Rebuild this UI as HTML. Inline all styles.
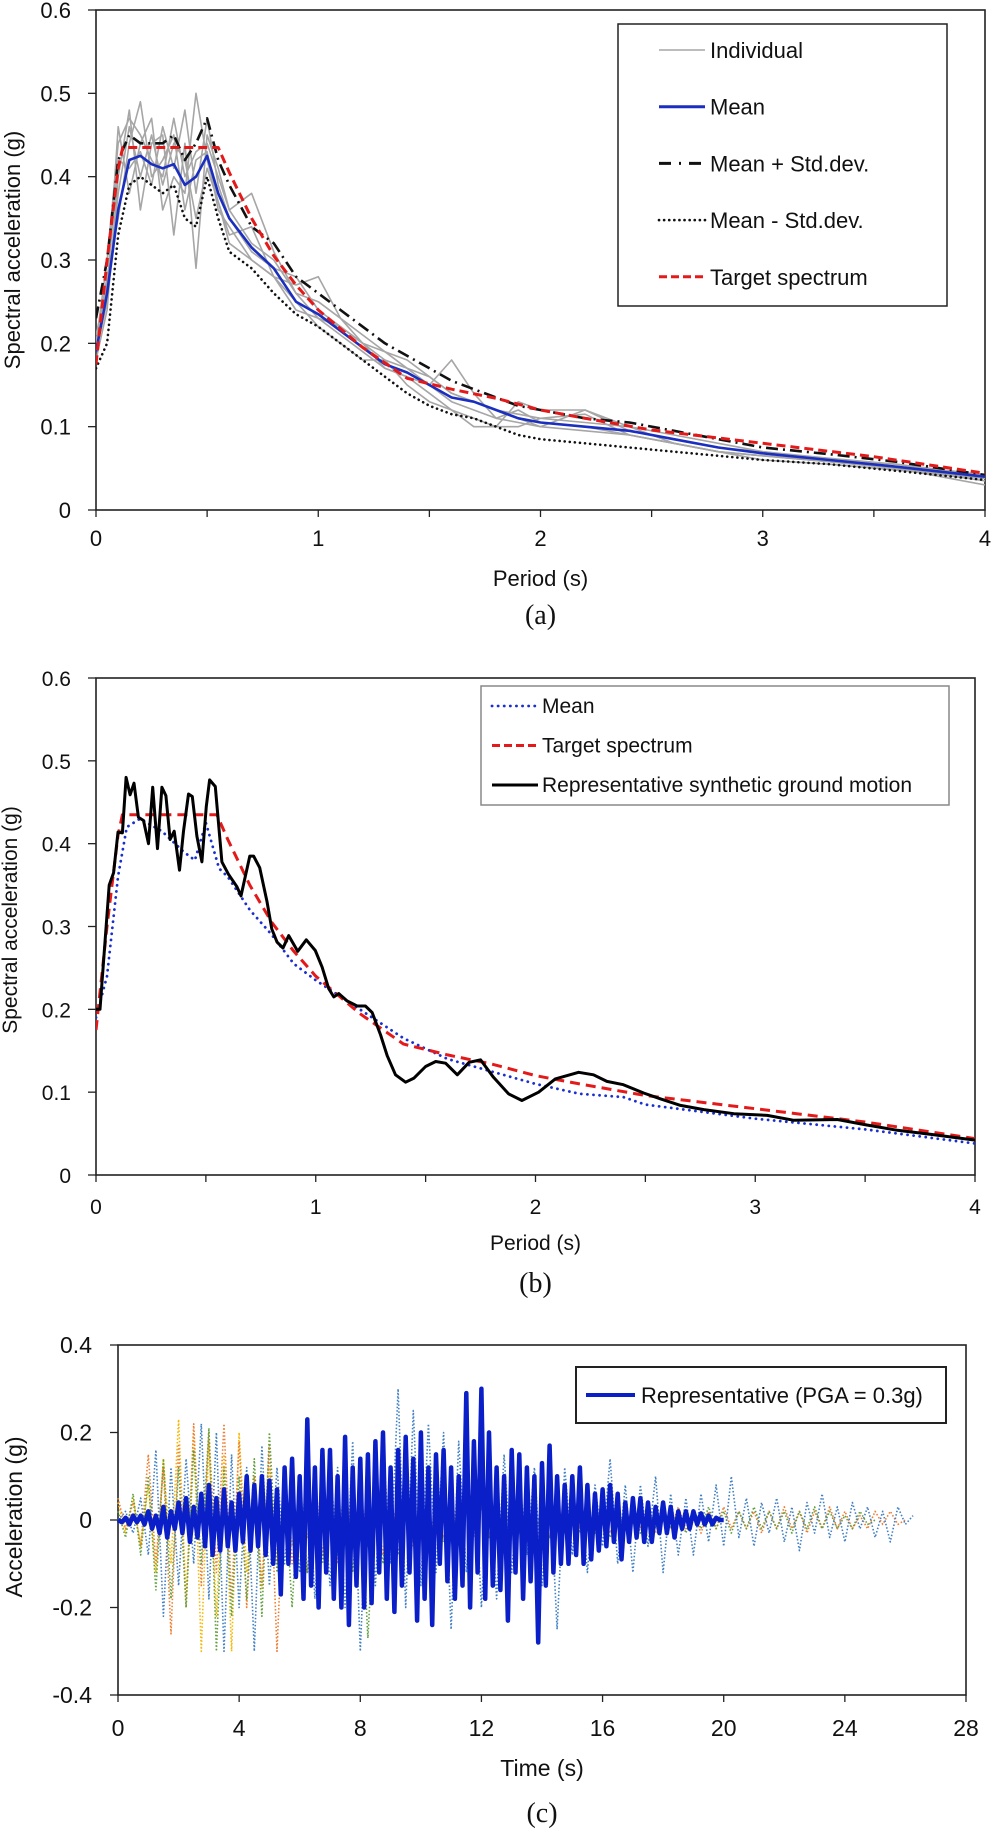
<!DOCTYPE html>
<html><head><meta charset="utf-8"><style>
html,body{margin:0;padding:0;background:#fff;}
svg{display:block;font-family:"Liberation Sans",sans-serif;}
</style></head><body>
<svg id="fig" width="992" height="1832" viewBox="0 0 992 1832" xmlns="http://www.w3.org/2000/svg">
<rect x="0" y="0" width="992" height="1832" fill="#fff"/>
<g id="ga"></g>
<g id="gb"></g>
<g id="gc"></g>
</svg>
<script>
// ---- Panel (a) data ----
const periodsA = [0,.05,.1,.15,.2,.25,.3,.35,.4,.45,.5,.55,.6,.7,.8,.9,1.0,1.1,1.2,1.3,1.4,1.5,1.6,1.7,1.8,1.9,2.0,2.2,2.4,2.6,2.8,3.0,3.3,3.6,4.0];
const meanA = [.19,.26,.36,.42,.425,.415,.41,.415,.39,.40,.425,.38,.35,.315,.29,.25,.235,.215,.195,.175,.165,.15,.135,.13,.12,.11,.105,.10,.095,.085,.075,.068,.06,.052,.04];
const plusStdA = [.23,.30,.42,.45,.44,.44,.44,.45,.42,.44,.47,.42,.39,.34,.32,.28,.26,.24,.22,.20,.185,.17,.155,.145,.135,.125,.12,.11,.105,.095,.085,.075,.067,.058,.042];
const minusStdA = [.17,.20,.33,.39,.40,.39,.38,.39,.35,.34,.40,.35,.31,.29,.26,.235,.22,.20,.18,.16,.14,.125,.115,.11,.10,.09,.085,.08,.075,.07,.065,.06,.055,.047,.036];
const indiv1 = [.20,.30,.44,.47,.45,.42,.40,.47,.40,.43,.44,.40,.36,.32,.30,.26,.25,.23,.21,.19,.18,.16,.14,.13,.12,.115,.11,.105,.10,.09,.08,.07,.062,.055,.042];
const indiv2 = [.19,.26,.46,.38,.44,.47,.36,.40,.38,.50,.42,.37,.33,.34,.28,.27,.28,.23,.20,.17,.16,.15,.18,.14,.11,.105,.10,.12,.10,.08,.07,.065,.058,.05,.038];
const indiv3 = [.18,.24,.40,.48,.36,.44,.45,.33,.44,.29,.45,.41,.36,.38,.31,.26,.23,.21,.19,.17,.16,.14,.12,.11,.10,.10,.11,.115,.09,.08,.07,.065,.06,.05,.035];
const indiv4 = [.20,.28,.35,.44,.49,.40,.42,.45,.36,.42,.43,.36,.34,.30,.28,.25,.22,.20,.18,.18,.15,.13,.12,.10,.10,.13,.12,.12,.095,.085,.075,.07,.06,.055,.04];
const indiv5 = [.21,.27,.42,.41,.43,.39,.46,.41,.48,.38,.47,.39,.35,.31,.29,.28,.24,.22,.20,.18,.17,.16,.14,.13,.12,.11,.10,.095,.09,.08,.07,.065,.058,.05,.03];
const indiv6 = [.19,.25,.38,.46,.40,.45,.39,.44,.42,.35,.41,.37,.32,.30,.28,.24,.23,.22,.20,.19,.17,.15,.13,.12,.11,.12,.105,.10,.09,.08,.07,.06,.055,.048,.038];
// ---- Target spectrum (a,b) ----
const targetT = [0,.05,.10,.12,.55,.6,.7,.8,.9,1.0,1.2,1.4,1.6,1.8,2.0,2.2,2.5,3.0,3.5,4.0];
const targetSa = [.175,.30,.41,.435,.435,.405,.35,.305,.27,.24,.195,.158,.145,.134,.12,.11,.096,.08,.064,.044];
// ---- Panel (b) data ----
const meanBT = [0,.05,.1,.14,.2,.3,.4,.45,.5,.56,.6,.7,.8,.9,1,1.2,1.4,1.6,1.8,2,2.2,2.4,2.5,3,3.5,4];
const meanB = [.19,.24,.36,.42,.43,.415,.39,.38,.425,.37,.36,.32,.29,.255,.235,.20,.165,.14,.125,.11,.098,.094,.085,.068,.055,.038];
const repBT = [0,.018,.06,.08,.10,.12,.137,.155,.173,.193,.216,.239,.258,.28,.30,.318,.337,.356,.38,.398,.421,.438,.459,.482,.502,.517,.543,.573,.603,.641,.66,.70,.717,.745,.778,.80,.824,.851,.877,.918,.957,.998,1.029,1.059,1.082,1.105,1.143,1.188,1.226,1.257,1.295,1.325,1.363,1.409,1.447,1.5,1.546,1.591,1.644,1.698,1.75,1.809,1.877,1.938,2.014,2.09,2.196,2.264,2.325,2.40,2.492,2.568,2.66,2.766,2.903,3.055,3.176,3.374,3.495,3.647,3.80,4.0];
const repB = [.2,.2,.35,.365,.414,.413,.48,.459,.473,.432,.428,.40,.468,.394,.468,.458,.405,.415,.368,.415,.46,.457,.409,.378,.445,.477,.469,.378,.363,.348,.337,.385,.385,.371,.33,.297,.281,.274,.289,.27,.284,.271,.251,.225,.215,.219,.21,.204,.204,.196,.169,.144,.121,.112,.117,.131,.137,.135,.121,.136,.139,.118,.098,.090,.10,.116,.124,.121,.113,.109,.099,.092,.084,.079,.074,.072,.066,.067,.061,.054,.049,.042];
// ---- Panel (c) data (dt = 0.125 s for representative, 0.25 s for others) ----
const repAcc = [0,-.005,.005,-.01,.01,-.005,.01,-.01,
.02,-.02,.01,-.03,.03,-.04,.02,-.02,
.04,-.03,.05,-.05,.03,-.04,.06,-.06,
.08,-.08,.05,-.07,.07,-.06,.04,-.07,
.06,-.05,.10,-.07,.08,-.06,.10,-.08,
.09,-.10,.07,-.17,.12,-.10,.14,-.13,
.10,-.18,.23,-.15,.12,-.20,.16,-.12,
.16,-.18,.10,-.20,.19,-.24,.12,-.15,
.14,-.20,.15,-.19,.18,-.12,.20,-.18,
.12,-.21,.16,-.15,.19,-.12,.14,-.23,
.20,-.18,.12,-.24,.15,-.10,.16,-.14,
.12,-.18,.10,-.15,.29,-.20,.18,-.12,
.30,-.18,.20,-.15,.12,-.16,.10,-.23,
.16,-.12,.15,-.18,.12,-.14,.10,-.28,
.13,-.15,.17,-.12,.10,-.10,.08,-.10,
.10,-.08,.12,-.10,.08,-.09,.06,-.07,
.07,-.06,.08,-.05,.06,-.09,.04,-.05,
.05,-.04,.05,-.05,.04,-.05,.03,-.03,
.04,-.03,.03,-.04,.02,-.02,.02,-.02,
.02,-.01,.015,-.01,.01,-.01,.005,0,0];
const accBlueDot = [0,.02,-.03,.05, -.08,.16,-.22,.12, -.15,.14,-.10,.22, -.18,.20,-.30,.15, -.20,.12,-.30,.17, -.15,.12,-.10,.08, -.12,.15,-.18,.10, -.15,.12,-.20,.18, -.30,.12,-.15,.18, -.10,.30,-.20,.25, -.15,.22,-.12,.20, -.25,.18,-.12,.15, -.20,.12,-.18,.15, -.12,.10,-.08,.12, -.15,.10,-.25,.12, -.08,.10,-.12,.08, -.06,.14,-.10,.08, -.12,.08,-.06,.10, -.12,.06,-.08,.05, -.08,.06,-.05,.08, -.06,.10,-.04,.05, -.06,.04,-.03,.05, -.05,.03,-.07,.04, -.03,.06,-.04,.03, -.05,.04,-.02,.03, -.04,.02,-.05,.03, -.01,.01];
const accOrangeDot = [.05,-.02,.04,-.06, .15,-.10,.12,-.26, .17,-.20,.22,-.15, .20,-.12,.22,-.18, .18,-.20,.10,-.15, .17,-.30,.12,-.10, .08,-.12,.10,-.08, .06,-.10,.08,-.05, .07,-.06,.05,-.08, .06,-.05,.04,-.06, .04,-.05,.03,-.04, .05,-.03,.04,-.04, .03,-.04,.05,-.03, .04,-.03,.03,-.05, .03,-.04,.02,-.03, .04,-.02,.03,-.03, .02,-.03,.02,-.02, .03,-.02,.02,-.03, .02,-.02,.03,-.02, .02,-.03,.02,-.02, .03,-.02,.02,-.02, .02,-.03,.02,-.02, .03,-.02,.02,-.03, .02,-.02,.03,-.02, .02,-.02,.01,-.02, .02,-.01,.02,-.01, 0];
const accGreenDot = [.02,-.04,.06,-.08, .10,-.16,.14,-.18, .12,-.20,.16,-.10, .21,-.30,.12,-.22, .10,-.18,.14,-.22, .20,-.12,.08,-.20, .10,-.12,.08,-.10, .12,-.08,.10,-.12, .08,-.27,.06,-.10, .06,-.08,.07,-.05, .05,-.06,.04,-.05, .04,-.05,.05,-.03, .03,-.04,.04,-.03, .04,-.03,.05,-.04, .03,-.04,.03,-.03, .04,-.03,.02,-.03, .03,-.04,.02,-.02, .02,-.03,.03,-.02, .03,-.02,.02,-.03, .02,-.02,.03,-.02, .02,-.03,.02,-.02, .03,-.02,.02,-.02, .02,-.03,.02,-.02, .03,-.02,.02,-.02, .01,-.02,.02,-.01, 0];
const accYellowDot = [.04,-.03,.05,-.06, .08,-.12,.14,-.10, .23,-.18,.20,-.30, .18,-.22,.15,-.30, .20,-.12,.10,-.16, .12,-.10,.08,-.06, .05,-.04,.03,-.03, .02,-.02,.02,-.01, 0];
const ticksAX = [0,1,2,3,4];
const ticksAY = [0,0.1,0.2,0.3,0.4,0.5,0.6];
const ticksCX = [0,4,8,12,16,20,24,28];
const ticksCY = [-0.4,-0.2,0,0.2,0.4];

const NS = "http://www.w3.org/2000/svg";
function mk(parent, tag, attrs, txt){
  const e = document.createElementNS(NS, tag);
  for (const k in attrs) e.setAttribute(k, attrs[k]);
  if (txt !== undefined) e.textContent = txt;
  parent.appendChild(e);
  return e;
}
function fmt(v){ return (Math.round(v*10)/10).toString(); }

function axes(g, P, xt, yt, minorX, xlabel, ylabel, ylx, yly, yfont, cap, capY, xlabY, tickY, ytickRight){
  const fr = mk(g,'rect',{x:P.x0,y:P.yt,width:P.x1-P.x0,height:P.yb-P.yt,fill:'none',stroke:'#222','stroke-width':1.6});
  
  
  yt.forEach(v=>{
    const y = P.sy(v);
    const t = mk(g,'line',{x1:P.x0-8,x2:P.x0,y1:y,y2:y,stroke:'#222','stroke-width':1.3});
    
    
    const l = mk(g,'text',{x:ytickRight,y:y+8,'text-anchor':'end','font-size':yfont,fill:'#111'},fmt(v));
    
    
  });
  minorX.forEach(v=>{
    const x = P.sx(v);
    const t = mk(g,'line',{x1:x,x2:x,y1:P.yb,y2:P.yb+7,stroke:'#222','stroke-width':1.3});
    
    
  });
  xt.forEach(v=>{
    const x = P.sx(v);
    const l = mk(g,'text',{x:x,y:tickY,'text-anchor':'middle','font-size':yfont,fill:'#111'},String(v));
    
    
  });
  const xl = mk(g,'text',{x:(P.x0+P.x1)/2,y:xlabY,'text-anchor':'middle','font-size':yfont,fill:'#111'},xlabel);
  
  
  const yl = mk(g,'text',{x:ylx,y:yly,'text-anchor':'middle','font-size':yfont,fill:'#111',transform:`rotate(-90 ${ylx} ${yly})`},ylabel);
  
  
  const c = mk(g,'text',{x:(P.x0+P.x1)/2,y:capY,'text-anchor':'middle','font-size':28,'font-family':'"Liberation Serif",serif',fill:'#111'},cap);
  
  
}
function line(g, P, xs, ys, style){
  const d = xs.map((x,i)=>(i?'L':'M')+P.sx(x).toFixed(1)+' '+P.sy(ys[i]).toFixed(1)).join(' ');
  return mk(g,'path',Object.assign({d:d,fill:'none','stroke-linejoin':'round'},style));
}

// ===== Panel A =====
const ga = document.getElementById('ga');
const PA = {x0:96,x1:985,yt:10,yb:510, sx:v=>96+v/4*889, sy:v=>510-v/0.6*500};
axes(ga,PA,ticksAX,ticksAY,[0,.5,1,1.5,2,2.5,3,3.5,4],'Period (s)','Spectral acceleration (g)',20,250,22,'(a)',624,586,546,71);
const clipA = mk(ga,'clipPath',{id:'cpa'}); mk(clipA,'rect',{x:96,y:10,width:889,height:500});
const la = mk(ga,'g',{'clip-path':'url(#cpa)'});


[indiv1,indiv2,indiv3,indiv4,indiv5,indiv6].forEach(s=>{
  const p = line(la,PA,periodsA,s,{stroke:'#a6a6a6','stroke-width':1.6});
  
  
});
let p;
p = line(la,PA,periodsA,minusStdA,{stroke:'#111','stroke-width':2.6,'stroke-dasharray':'0.1 5','stroke-linecap':'round'});


p = line(la,PA,periodsA,plusStdA,{stroke:'#111','stroke-width':2.6,'stroke-dasharray':'12 5 2 5'});


p = line(la,PA,periodsA,meanA,{stroke:'#1a2fc0','stroke-width':2.6});


p = line(la,PA,targetT,targetSa,{stroke:'#e41a1a','stroke-width':3,'stroke-dasharray':'9 5'});


const lgA = mk(ga,'g',{});


mk(lgA,'rect',{x:618,y:24,width:329,height:282,fill:'#fff',stroke:'#222','stroke-width':1.5});
const legA = [['Individual',{stroke:'#a6a6a6','stroke-width':1.6}],
 ['Mean',{stroke:'#1a2fc0','stroke-width':3}],
 ['Mean + Std.dev.',{stroke:'#111','stroke-width':3,'stroke-dasharray':'12 8 2 8'}],
 ['Mean - Std.dev.',{stroke:'#111','stroke-width':2.6,'stroke-dasharray':'0.1 5','stroke-linecap':'round'}],
 ['Target spectrum',{stroke:'#e41a1a','stroke-width':3,'stroke-dasharray':'8 4'}]];
legA.forEach((e,i)=>{
  const y = 50 + i*56.7;
  const it = mk(lgA,'g',{});
  
  
  mk(it,'line',Object.assign({x1:659,x2:705,y1:y,y2:y},e[1]));
  mk(it,'text',{x:710,y:y+8,'font-size':22,fill:'#111'},e[0]);
});

// ===== Panel B =====
const gb = document.getElementById('gb');
const PB = {x0:96,x1:975,yt:678,yb:1175, sx:v=>96+v/4*879, sy:v=>1175-v/0.6*497};
axes(gb,PB,ticksAX,ticksAY,[0,.5,1,1.5,2,2.5,3,3.5,4],'Period (s)','Spectral acceleration (g)',17,920,21,'(b)',1292,1250,1214,71);
const clipB = mk(gb,'clipPath',{id:'cpb'}); mk(clipB,'rect',{x:96,y:678,width:879,height:497});
const lb = mk(gb,'g',{'clip-path':'url(#cpb)'});


p = line(lb,PB,meanBT,meanB,{stroke:'#1a2fd0','stroke-width':2.8,'stroke-dasharray':'0.1 6','stroke-linecap':'round'});


p = line(lb,PB,targetT,targetSa,{stroke:'#e41a1a','stroke-width':3,'stroke-dasharray':'10 6'});


p = line(lb,PB,repBT,repB,{stroke:'#000','stroke-width':3});


const lgB = mk(gb,'g',{});


mk(lgB,'rect',{x:481,y:686,width:468,height:119,fill:'#fff',stroke:'#888','stroke-width':1.5});
const legB = [['Mean',{stroke:'#1a2fd0','stroke-width':2.8,'stroke-dasharray':'0.1 6','stroke-linecap':'round'}],
 ['Target spectrum',{stroke:'#e41a1a','stroke-width':3,'stroke-dasharray':'8 4'}],
 ['Representative synthetic ground motion',{stroke:'#000','stroke-width':3}]];
legB.forEach((e,i)=>{
  const y = 706 + i*39.5;
  const it = mk(lgB,'g',{});
  
  
  mk(it,'line',Object.assign({x1:492,x2:538,y1:y,y2:y},e[1]));
  mk(it,'text',{x:542,y:y+7,'font-size':21,fill:'#111'},e[0]);
});

// ===== Panel C =====
const gc = document.getElementById('gc');
const PC = {x0:118,x1:966,yt:1345,yb:1695, sx:v=>118+v/28*848, sy:v=>1520-v/0.4*175};
axes(gc,PC,ticksCX,ticksCY,ticksCX,'Time (s)','Acceleration (g)',22,1517,23,'(c)',1822,1776,1736,92);
function times(n,dt){ const a=[]; for(let i=0;i<n;i++) a.push(i*dt); return a; }
const dots = [[accYellowDot,'#f5b800'],[accOrangeDot,'#ed7d31'],[accGreenDot,'#5fa03c'],[accBlueDot,'#3f7fc4']];
dots.forEach(d=>{
  const q = line(gc,PC,times(d[0].length,0.25),d[0],{stroke:d[1],'stroke-width':1.6,'stroke-dasharray':'1.5 2'});
  
  
});
p = line(gc,PC,times(repAcc.length,0.125),repAcc,{stroke:'#0a1fc8','stroke-width':4.5});


const lgC = mk(gc,'g',{});


mk(lgC,'rect',{x:576,y:1367,width:370,height:56,fill:'#fff',stroke:'#222','stroke-width':2});
mk(lgC,'line',{x1:586,x2:635,y1:1395,y2:1395,stroke:'#0a1fc8','stroke-width':4});
mk(lgC,'text',{x:641,y:1403,'font-size':22,fill:'#111'},'Representative (PGA = 0.3g)');
</script>
</body></html>
